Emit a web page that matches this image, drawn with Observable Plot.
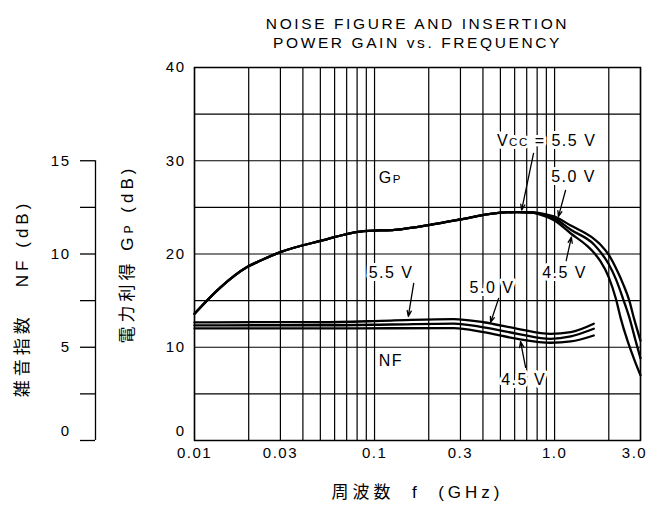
<!DOCTYPE html>
<html><head><meta charset="utf-8">
<script src="https://cdn.jsdelivr.net/npm/d3@7"></script>
<script src="https://cdn.jsdelivr.net/npm/@observablehq/plot@0.6"></script>
<style>
body{margin:0;background:#fff;}
svg text{letter-spacing:1.5px;}
</style>
</head><body><div id="chart"></div>
<script>
// ---- data ----
const voltages = ["5.5 V", "5.0 V", "4.5 V"];

// insertion power gain Gp (dB): shared part of the three curves
const gpFreqCommon = [0.01, 0.0139, 0.0196, 0.0233, 0.03, 0.05, 0.083, 0.14, 0.2, 0.3, 0.44, 0.62, 0.75];
const gpCommon     = [13.6, 16.4, 18.6, 19.3, 20.2, 21.4, 22.4, 22.65, 23.1, 23.7, 24.3, 24.5, 24.45];
// Gp after the curves split, per Vcc
const gpFreq55 = [0.87, 1.0, 1.23, 1.66, 1.80, 2.00, 2.19, 2.40, 2.60, 2.76, 3.0];
const gp55     = [24.3, 24.0, 23.05, 21.6, 21.0, 19.9, 18.5, 16.8, 15.0, 13.1, 10.7];
const gpFreq50 = [0.87, 1.0, 1.23, 1.66, 1.80, 2.00, 2.19, 2.40, 2.60, 2.80, 3.0];
const gp50     = [24.2, 23.8, 22.6, 21.0, 20.2, 18.9, 17.3, 15.2, 13.2, 10.9, 8.8];
const gpFreq45 = [0.87, 1.0, 1.23, 1.51, 1.66, 1.80, 2.00, 2.19, 2.33, 2.54, 2.78, 3.0];
const gp45     = [24.1, 23.6, 22.2, 20.9, 20.1, 19.2, 17.5, 15.2, 13.1, 10.7, 8.6, 7.0];

// noise figure NF (dB)
const nfFreq = [0.01, 0.023, 0.05, 0.123, 0.275, 0.403, 0.623, 0.95, 1.23, 1.65];
const nf55   = [6.33, 6.35, 6.34, 6.43, 6.51, 6.34, 5.99, 5.72, 5.81, 6.26];
const nf50   = [6.17, 6.18, 6.18, 6.22, 6.27, 6.07, 5.72, 5.45, 5.58, 5.99];
const nf45   = [6.01, 6.01, 6.01, 6.02, 6.03, 5.81, 5.45, 5.24, 5.31, 5.63];

// ticks
const xTickValues = [0.01, 0.03, 0.1, 0.3, 1];
const xTickLabels = ["0.01", "0.03", "0.1", "0.3", "1.0"];
const xLastTick = [3];
const xLastLabel = ["3.0"];
const gpTicks = [10, 20, 30, 40];
const nfTicks = [0, 2.5, 5, 7.5, 10, 12.5, 15];
const nfLabeled = [5, 10, 15];
const gridYValues = [5, 10, 15, 20, 25, 30, 35];

// annotations (Gp curves)
const gpLabelText = ["V_CC = 5.5 V", "5.0 V", "4.5 V"];
const gpLabelF = [0.903, 1.275, 1.136];
const gpLabelG = [32.17, 28.26, 17.96];
const gpArrowF1 = [0.764, 1.15, 1.16], gpArrowG1 = [30.78, 26.81, 19.3];
const gpArrowF2 = [0.656, 1.05, 1.24], gpArrowG2 = [24.7, 24.0, 21.8];
// annotations (NF curves, NF units)
const nfLabelText = ["5.5 V", "5.0 V", "4.5 V"];
const nfLabelF = [0.1235, 0.449, 0.673];
const nfLabelN = [8.98, 8.2, 3.27];
const nfArrowF1 = [0.165, 0.489, 0.69], nfArrowN1 = [8.42, 7.62, 3.92];
const nfArrowF2 = [0.154, 0.441, 0.647], nfArrowN2 = [6.65, 6.33, 5.3];
const curveNames = ["G_P", "NF"];
const curveNameF = [0.1055, 0.1055];
const curveNameG = [28.15, 8.58];

// ---- tables ----
const gpTails = [[gpFreq55, gp55], [gpFreq50, gp50], [gpFreq45, gp45]];
const gpRows = [];
voltages.forEach((v, i) => {
  gpFreqCommon.forEach((f, j) => gpRows.push({v, f, g: gpCommon[j]}));
  gpTails[i][0].forEach((f, j) => gpRows.push({v, f, g: gpTails[i][1][j]}));
});
const nfSeries = [nf55, nf50, nf45];
const nfRows = [];
voltages.forEach((v, i) => nfFreq.forEach((f, j) => nfRows.push({v, f, nf: nfSeries[i][j]})));
const gpLabels = gpLabelText.map((t, i) => ({t, f: gpLabelF[i], g: gpLabelG[i]}));
const nfLabels = nfLabelText.map((t, i) => ({t, f: nfLabelF[i], g: nfLabelN[i] * 2}));
const arrows = [
  ...gpArrowF1.map((f, i) => ({x1: f, y1: gpArrowG1[i], x2: gpArrowF2[i], y2: gpArrowG2[i]})),
  ...nfArrowF1.map((f, i) => ({x1: f, y1: nfArrowN1[i] * 2, x2: nfArrowF2[i], y2: nfArrowN2[i] * 2}))
];
const names = curveNames.map((t, i) => ({t, f: curveNameF[i], g: curveNameG[i]}));
const gridXValues = d3.scaleLog().domain([0.01, 3]).ticks();

const FONT = "'Liberation Sans', Arial, 'Noto Sans CJK JP', sans-serif";
const halo = {stroke: "white", strokeWidth: 6, fill: "black"};

const plot = Plot.plot({
  width: 656, height: 510,
  marginLeft: 194, marginRight: 16, marginTop: 67, marginBottom: 70,
  x: {type: "log", domain: [0.01, 3], axis: null},
  y: {domain: [0, 40]},
  style: {fontFamily: FONT, fontSize: "15px", background: "white", color: "black"},
  marks: [
    Plot.gridX(gridXValues, {stroke: "black", strokeOpacity: 1, strokeWidth: 1.2}),
    Plot.gridY(gridYValues, {stroke: "black", strokeOpacity: 1, strokeWidth: 1.2}),
    Plot.text(gpLabels, {x: "f", y: "g", text: "t", fontSize: 16, ...halo}),
    Plot.text(nfLabels, {x: "f", y: "g", text: "t", fontSize: 16, ...halo}),
    Plot.text(names, {x: "f", y: "g", text: "t", fontSize: 16, textAnchor: "start", ...halo}),
    Plot.line(gpRows, {x: "f", y: "g", z: "v", stroke: "black", strokeWidth: 2.3, curve: "monotone-x"}),
    Plot.line(nfRows, {x: "f", y: d => d.nf * 2, z: "v", stroke: "black", strokeWidth: 2.3, curve: "monotone-x"}),
    Plot.frame({stroke: "black", strokeWidth: 1.5}),
    Plot.arrow(arrows, {x1: "x1", y1: "y1", x2: "x2", y2: "y2", stroke: "black", strokeWidth: 1.3, headLength: 7, headAngle: 40, insetEnd: 0, insetStart: 0}),
    // x tick labels
    Plot.text(xTickValues, {x: d => d, frameAnchor: "bottom", dy: 17, fontSize: 15, fill: "black", text: (d, i) => xTickLabels[i]}),
    Plot.text(xLastTick, {x: d => d, frameAnchor: "bottom", dy: 17, dx: -6, fontSize: 15, fill: "black", text: (d, i) => xLastLabel[i]}),
    // Gp axis
    Plot.axisY(gpTicks, {tickSize: 0, tickPadding: 9, fontSize: 15, label: null}),
    Plot.axisY([0], {tickSize: 0, tickPadding: 9, fontSize: 15, dy: -9, label: null}),
    // NF axis (NF = Gp scale / 2)
    Plot.ruleX([0.01], {y1: 0, y2: 30, dx: -99, stroke: "black", strokeWidth: 1.3}),
    Plot.axisY(nfTicks.map(d => d * 2), {tickSize: 15, tickPadding: 10, dx: -99, fontSize: 15, strokeWidth: 1.3, label: null,
      tickFormat: d => nfLabeled.includes(d / 2) ? String(d / 2) : ""}),
    Plot.axisY([0], {tickSize: 0, tickPadding: 25, dx: -99, dy: -9, fontSize: 15, label: null, tickFormat: d => String(d)}),
    // titles and axis labels
    Plot.text(["NOISE FIGURE AND INSERTION"], {frameAnchor: "top", dy: -50, fontSize: 15.5, fill: "black"}),
    Plot.text(["POWER GAIN vs. FREQUENCY"], {frameAnchor: "top", dy: -31, fontSize: 15.5, fill: "black"}),
    Plot.text(["周波数  f  (GHz)"], {frameAnchor: "bottom", dy: 57, fontSize: 17, fill: "black"}),
    Plot.text(["電力利得 G_P (dB)"], {frameAnchor: "left", textAnchor: "middle", dx: -67, dy: 0, rotate: -90, fontSize: 17, fill: "black"}),
    Plot.text(["雑音指数   NF (dB)"], {frameAnchor: "left", textAnchor: "middle", dx: -172, dy: 44.5, rotate: -90, fontSize: 17, fill: "black"})
  ]
});

// subscripts (G_P, V_CC) and per-text letter spacing
d3.select(plot).selectAll("text").each(function() {
  const t = this.textContent;
  if (t.startsWith("NOISE") || t.startsWith("POWER")) this.style.letterSpacing = "2.6px";
  if (/[\u3000-\u9fff]/.test(t)) this.style.letterSpacing = "4px";
  const m = t.match(/^(.*?)_([A-Z]+)(.*)$/);
  if (m) {
    const el = d3.select(this);
    el.text("");
    el.append("tspan").text(m[1]);
    el.append("tspan").attr("font-size", "0.72em").text(m[2]);
    el.append("tspan").text(m[3]);
  }
});

document.getElementById("chart").appendChild(plot);
</script>
</body></html>
